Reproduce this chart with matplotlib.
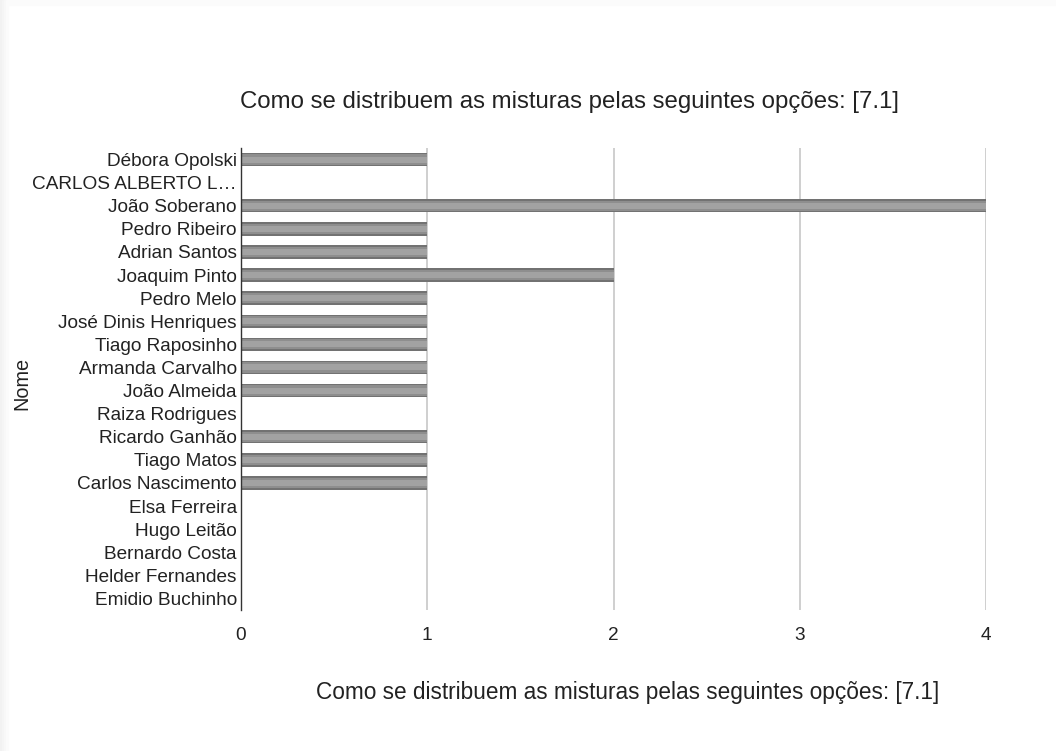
import numpy as np
import matplotlib
matplotlib.use('Agg')
import matplotlib.pyplot as plt
from matplotlib.patches import Rectangle

plt.rcParams['font.family'] = ['Liberation Sans', 'DejaVu Sans']

nomes = ['Débora Opolski', 'CARLOS ALBERTO L…', 'João Soberano', 'Pedro Ribeiro',
         'Adrian Santos', 'Joaquim Pinto', 'Pedro Melo', 'José Dinis Henriques',
         'Tiago Raposinho', 'Armanda Carvalho', 'João Almeida', 'Raiza Rodrigues',
         'Ricardo Ganhão', 'Tiago Matos', 'Carlos Nascimento', 'Elsa Ferreira',
         'Hugo Leitão', 'Bernardo Costa', 'Helder Fernandes', 'Emidio Buchinho']
valores = [1, 0, 4, 1, 1, 2, 1, 1, 1, 1, 1, 0, 1, 1, 1, 0, 0, 0, 0, 0]
titulo = 'Como se distribuem as misturas pelas seguintes opções: [7.1]'

fig = plt.figure(figsize=(10.56, 7.51), dpi=100)
# faint card shadow on the left and top edges
for i, c in enumerate(['#f2f2f2', '#f5f5f5', '#f8f8f8', '#fbfbfb']):
    fig.patches.append(Rectangle((i * 2 / 1056, 0), 2 / 1056, 1, transform=fig.transFigure,
                                 color=c, zorder=0))
fig.patches.append(Rectangle((8 / 1056, 1 - 5 / 751), 1, 5 / 751, transform=fig.transFigure,
                             color='#fbfbfb', zorder=0))

ax = fig.add_axes([241 / 1056, 1 - 610 / 751, 745 / 1056, 462 / 751])
y = np.arange(len(nomes))

# bars: darker outer band with a lighter centre
ax.barh(y, valores, height=0.58, color='#727272', zorder=3)
ax.barh(y, valores, height=0.44, color='#8e8e8e', zorder=4)
ax.barh(y, valores, height=0.26, color='#a2a2a2', zorder=5)

ax.set_xlim(0, 4)
ax.set_ylim(len(nomes) - 0.5, -0.5)
ax.set_yticks(y)
ax.set_yticklabels(nomes, fontsize=13.7, color='#222222')
ax.set_xticks([0, 1, 2, 3, 4])
ax.tick_params(axis='x', length=0, pad=12, labelsize=13.7, labelcolor='#222222')
ax.tick_params(axis='y', length=0, pad=3)
ax.grid(axis='x', color='#cccccc', linewidth=1.3, zorder=0)
for s in ['top', 'right', 'bottom']:
    ax.spines[s].set_visible(False)
ax.spines['left'].set_color('#333333')
ax.spines['left'].set_linewidth(1)
ax.spines['left'].set_zorder(6)

fig.text(570 / 1056, 1 - 102 / 751, titulo, ha='center', va='center',
         fontsize=17.3, color='#222222')
fig.text(628 / 1056, 1 - 693 / 751, titulo, ha='center', va='center',
         fontsize=16.3, color='#222222')
fig.text(22 / 1056, 1 - 383 / 751, 'Nome', ha='center', va='center',
         rotation=90, fontsize=14.3, color='#222222')

fig.savefig('out.png', dpi=100)
